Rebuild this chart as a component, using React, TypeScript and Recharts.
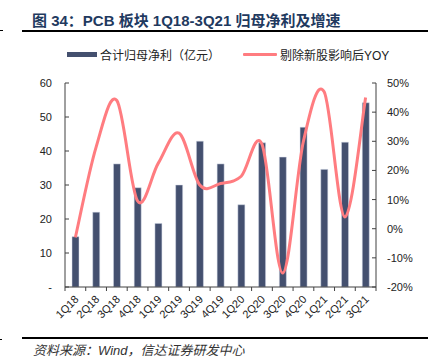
import React from "react";
import { ComposedChart, Bar, Line, XAxis, YAxis } from "recharts";

const quarters = [
  "1Q18", "2Q18", "3Q18", "4Q18", "1Q19", "2Q19", "3Q19", "4Q19",
  "1Q20", "2Q20", "3Q20", "4Q20", "1Q21", "2Q21", "3Q21",
];
const netProfit = [14.8, 22.0, 36.2, 29.2, 18.7, 30.0, 42.9, 36.2, 24.2, 42.4, 38.2, 47.0, 34.6, 42.6, 54.2];
const yoy = [-3, 28, 44, 9.5, 22.5, 32.8, 15, 15.5, 18, 29, -15.2, 30, 47, 4, 45];
const leftTicks = [0, 10, 20, 30, 40, 50, 60];
const rightTicks = [-20, -10, 0, 10, 20, 30, 40, 50];

const data = quarters.map((q, i) => ({ q, profit: netProfit[i], yoy: yoy[i] }));

const NAVY = "#44506F";
const PINK = "#FF7C80";
const AXIS = "#404040";
const FONT = "'Liberation Sans', Arial, 'Noto Sans CJK SC', sans-serif";

const PLOT_LEFT = 65;
const PLOT_RIGHT = 376;
const PLOT_BOTTOM = 287;
const BAND = (PLOT_RIGHT - PLOT_LEFT) / quarters.length;

// Excel-like smoothed line (Catmull-Rom style bezier)
const excelCurve = (context: any) => {
  let pts: number[][] = [];
  return {
    areaStart() {},
    areaEnd() {},
    lineStart() {
      pts = [];
    },
    point(x: number, y: number) {
      pts.push([+x, +y]);
    },
    lineEnd() {
      if (!pts.length) return;
      context.moveTo(pts[0][0], pts[0][1]);
      for (let i = 0; i < pts.length - 1; i++) {
        const p0 = pts[i - 1] || pts[i];
        const p1 = pts[i];
        const p2 = pts[i + 1];
        const p3 = pts[i + 2] || p2;
        context.bezierCurveTo(
          p1[0] + (p2[0] - p0[0]) / 6,
          p1[1] + (p2[1] - p0[1]) / 6,
          p2[0] - (p3[0] - p1[0]) / 6,
          p2[1] - (p3[1] - p1[1]) / 6,
          p2[0],
          p2[1]
        );
      }
    },
  };
};

const LeftTick = (props: any) => {
  const { y, payload } = props;
  return (
    <g>
      <line x1={PLOT_LEFT} x2={PLOT_LEFT + 4} y1={y} y2={y} stroke={AXIS} />
      <text x={52} y={y} dy={4} textAnchor="end" fontSize={11} fill="#222" fontFamily={FONT}>
        {payload.value === 0 ? "-" : payload.value}
      </text>
    </g>
  );
};

const RightTick = (props: any) => {
  const { y, payload } = props;
  return (
    <g>
      <line x1={PLOT_RIGHT - 4} x2={PLOT_RIGHT} y1={y} y2={y} stroke={AXIS} />
      <text x={387} y={y} dy={4} textAnchor="start" fontSize={11} fill="#222" fontFamily={FONT}>
        {payload.value + "%"}
      </text>
    </g>
  );
};

const BottomTick = (props: any) => {
  const { x, index, payload } = props;
  const left = x - BAND / 2;
  const ty = PLOT_BOTTOM + 13;
  return (
    <g>
      <line x1={left} x2={left} y1={PLOT_BOTTOM} y2={PLOT_BOTTOM + 4} stroke={AXIS} />
      {index === quarters.length - 1 && (
        <line x1={x + BAND / 2} x2={x + BAND / 2} y1={PLOT_BOTTOM} y2={PLOT_BOTTOM + 4} stroke={AXIS} />
      )}
      <text
        x={x + 4}
        y={ty}
        textAnchor="end"
        fontSize={11}
        fill="#222"
        fontFamily={FONT}
        transform={`rotate(-45 ${x + 4} ${ty})`}
      >
        {payload.value}
      </text>
    </g>
  );
};

export default function App() {
  return (
    <div style={{ position: "absolute", left: 0, top: 0, width: 428, height: 362, background: "#fff", fontFamily: FONT }}>
      <div
        style={{
          position: "absolute",
          left: 32,
          top: 9,
          fontSize: 15,
          fontWeight: "bold",
          color: "#1F3A5F",
          whiteSpace: "nowrap",
        }}
      >
        图 34：PCB 板块 1Q18-3Q21 归母净利及增速
      </div>
      <div style={{ position: "absolute", left: 22, top: 30, width: 406, height: 1.5, background: "#000" }} />
      <div style={{ position: "absolute", left: 0, top: 30, width: 3, height: 1, background: "#000" }} />

      <div style={{ position: "absolute", left: 67, top: 52, width: 30, height: 5, background: NAVY }} />
      <div style={{ position: "absolute", left: 100, top: 46, fontSize: 12, color: "#222", whiteSpace: "nowrap" }}>
        合计归母净利（亿元）
      </div>
      <div style={{ position: "absolute", left: 243, top: 53, width: 34, height: 3, background: PINK, borderRadius: 1 }} />
      <div style={{ position: "absolute", left: 280, top: 46, fontSize: 12, color: "#222", whiteSpace: "nowrap" }}>
        剔除新股影响后YOY
      </div>

      <div style={{ position: "absolute", left: 0, top: 0 }}>
        <ComposedChart
          width={428}
          height={362}
          data={data}
          margin={{ top: 83, right: 0, left: 0, bottom: 35 }}
        >
          <XAxis
            dataKey="q"
            interval={0}
            height={40}
            tickLine={false}
            axisLine={{ stroke: AXIS }}
            tick={<BottomTick />}
          />
          <YAxis
            yAxisId="left"
            width={65}
            domain={[0, 60]}
            ticks={leftTicks}
            tickLine={false}
            axisLine={{ stroke: AXIS }}
            tick={<LeftTick />}
          />
          <YAxis
            yAxisId="right"
            orientation="right"
            width={52}
            domain={[-20, 50]}
            ticks={rightTicks}
            tickLine={false}
            axisLine={{ stroke: AXIS }}
            tick={<RightTick />}
          />
          <Bar
            yAxisId="left"
            dataKey="profit"
            fill={NAVY}
            stroke="#d5dbe8"
            strokeWidth={0.5}
            barSize={7}
            isAnimationActive={false}
          />
          <Line
            yAxisId="right"
            dataKey="yoy"
            type={excelCurve as any}
            stroke={PINK}
            strokeWidth={3}
            dot={false}
            isAnimationActive={false}
          />
        </ComposedChart>
      </div>

      <div style={{ position: "absolute", left: 22, top: 337, width: 406, height: 1.5, background: "#000" }} />
      <div style={{ position: "absolute", left: 0, top: 339, width: 2, height: 1, background: "#000" }} />
      <div
        style={{
          position: "absolute",
          left: 33,
          top: 340,
          fontSize: 13,
          fontStyle: "italic",
          color: "#333",
          whiteSpace: "nowrap",
        }}
      >
        资料来源：Wind，信达证券研发中心
      </div>
    </div>
  );
}
